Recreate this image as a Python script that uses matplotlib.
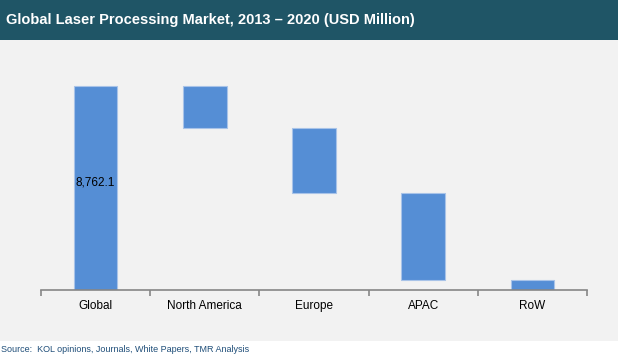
import matplotlib.pyplot as plt
from matplotlib.patches import Rectangle

categories = ["Global", "North America", "Europe", "APAC", "RoW"]
total = 8762.1
regions = [1817.0, 2792.0, 3723.0, 430.1]

# waterfall: global bar from zero, then regions stepping down
bottoms = [0.0]
heights = [total]
level = total
for v in regions:
    level -= v
    bottoms.append(level)
    heights.append(v)

plt.rcParams['font.family'] = ['Liberation Sans', 'DejaVu Sans']

fig = plt.figure(figsize=(6.18, 3.61), dpi=100)
fig.patch.set_facecolor("white")

# grey panel and header band
fig.add_artist(Rectangle((0, 20 / 361), 1, 301 / 361, transform=fig.transFigure,
                         facecolor="#f2f2f2", edgecolor="none", zorder=0))
fig.add_artist(Rectangle((0, 321 / 361), 1, 40 / 361, transform=fig.transFigure,
                         facecolor="#1f5566", edgecolor="none", zorder=0))
fig.text(6 / 618, 1 - 20 / 361, "Global Laser Processing Market, 2013 \u2013 2020 (USD Million)",
         color="white", fontsize=10.5, fontweight="bold", va="center", ha="left")
fig.text(1 / 618, 1 - 350 / 361, "Source:  KOL opinions, Journals, White Papers, TMR Analysis",
         color="#1f4e79", fontsize=6.5, va="center", ha="left")

ax = fig.add_axes([41 / 618, 71 / 361, 546 / 618, 240 / 361])
ax.set_facecolor("none")
x = list(range(len(categories)))
ax.bar(x, heights, bottom=bottoms, width=0.4, color="#558ed5", edgecolor="#a8c3e8", linewidth=0.8)
ax.annotate("{:,.1f}".format(total), (0, total / 2), xytext=(0, 4), textcoords="offset points",
            ha="center", va="center", fontsize=8.5, color="black")

ax.set_xlim(-0.5, len(categories) - 0.5)
ax.set_ylim(0, total * 240 / 204)
ax.set_yticks([])
for s in ["left", "right", "top"]:
    ax.spines[s].set_visible(False)
ax.spines["bottom"].set_color("#868686")
ax.spines["bottom"].set_linewidth(1.2)

ax.set_xticks([i - 0.5 for i in range(len(categories) + 1)])
ax.set_xticklabels([])
ax.tick_params(axis="x", which="major", length=4, color="#868686", width=1.2)
ax.set_xticks(x, minor=True)
ax.set_xticklabels(categories, minor=True)
ax.tick_params(axis="x", which="minor", length=0, pad=7.5, labelsize=8.5, labelcolor="black")

fig.savefig("out.png", dpi=100)
